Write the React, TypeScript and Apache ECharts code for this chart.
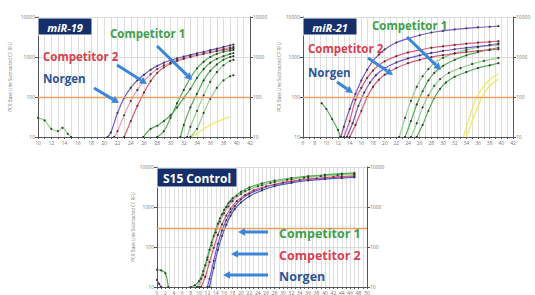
import React, { useEffect, useRef } from "react";
import * as echarts from "echarts";

type Pt = [number, number];

// ---------- miR-19 panel ----------
const m19XRange = [10, 42];
const m19Threshold = 100;
const m19Norgen: Pt[] = [[20.5,10],[21,13],[22,40],[23,95],[24,170],[25,260],[26,360],[27,480],[28,600],[29,720],[30,830],[31,930],[32,1030],[33,1130],[34,1240],[35,1350],[36,1480],[37,1620],[38,1780],[39,1950],[39.5,2050]];
const m19Comp2A: Pt[] = [[21.5,10],[22,14],[23,35],[24,80],[25,150],[26,250],[27,370],[28,500],[29,620],[30,730],[31,840],[32,940],[33,1040],[34,1140],[35,1240],[36,1350],[37,1470],[38,1600],[39,1720],[39.5,1780]];
const m19Comp2B: Pt[] = [[23,10],[24,25],[25,60],[26,130],[27,250],[28,400],[29,550],[30,680],[31,800],[32,900],[33,1000],[34,1100],[35,1200],[36,1300],[37,1400],[38,1500],[39,1600],[39.5,1650]];
const m19Comp1A: Pt[] = [[25.9,10],[27,16],[28,19],[29,25],[30,35],[31,55],[32,95],[33,160],[34,300],[35,500],[36,720],[37,900],[38,1050],[39,1200],[39.5,1250]];
const m19Comp1B: Pt[] = [[31.5,10],[32,20],[33,55],[34,120],[35,260],[36,450],[37,650],[38,850],[39,1000],[39.5,1050]];
const m19Comp1C: Pt[] = [[32.5,10],[33,18],[34,45],[35,110],[36,240],[37,420],[38,620],[39,800],[39.5,850]];
const m19Comp1D: Pt[] = [[33,10],[34,16],[35,40],[36,90],[37,170],[38,260],[39,330],[39.5,350]];
const m19Comp1E: Pt[] = [[28,10],[29,14],[30,30],[31,70],[32,150],[33,300],[34,520],[35,760],[36,1000],[37,1200],[38,1350],[39,1450],[39.5,1500]];
const m19Noise: Pt[] = [[10,30],[11,26],[12,16],[13,14],[13.7,17],[14.5,12],[15,10]];
const m19NTC: Pt[] = [[33,10],[34,12],[35,16],[36,20],[37,24],[38,28],[39,32]];

// ---------- miR-21 panel ----------
const m21XRange = [6, 42];
const m21Threshold = 100;
const m21NorgenA: Pt[] = [[12.5,10],[13,18],[14,50],[15,120],[16,260],[17,480],[18,800],[19,1150],[20,1550],[22,2300],[24,2900],[26,3500],[28,4100],[30,4500],[32,4900],[34,5200],[36,5500],[38,5700],[39.5,5900]];
const m21Comp2A: Pt[] = [[13,10],[14,25],[15,85],[16,170],[17,300],[18,460],[19,620],[20,780],[22,1050],[24,1300],[26,1500],[28,1700],[30,1850],[32,2000],[34,2150],[36,2300],[38,2400],[39.5,2500]];
const m21NorgenB: Pt[] = [[13.5,10],[14.5,22],[15.5,60],[16.5,130],[17.5,230],[18.5,350],[20,520],[22,730],[24,920],[26,1100],[28,1260],[30,1420],[32,1560],[34,1700],[36,1830],[38,1950],[39.5,2050]];
const m21Comp2B: Pt[] = [[14,10],[15,20],[16,45],[17,100],[18,180],[19,270],[20,360],[22,530],[24,700],[26,850],[28,990],[30,1110],[32,1220],[34,1330],[36,1420],[38,1500],[39.5,1560]];
const m21Comp1A: Pt[] = [[22.5,10],[23.5,30],[24.5,80],[25.5,180],[26.5,330],[27.5,500],[28.5,700],[30,950],[32,1250],[34,1500],[36,1750],[38,2000],[39.5,2200]];
const m21Comp1B: Pt[] = [[23.5,10],[24.5,25],[25.5,65],[26.5,140],[27.5,260],[28.5,400],[30,600],[32,850],[34,1100],[36,1330],[38,1550],[39.5,1700]];
const m21Comp1C: Pt[] = [[24.5,10],[25.5,22],[26.5,55],[27.5,110],[28.5,190],[29.5,280],[31,400],[33,530],[35,670],[37,800],[39.5,950]];
const m21Comp1D: Pt[] = [[25.5,10],[26.5,20],[27.5,45],[28.5,95],[29.5,160],[30.5,230],[32,320],[34,420],[36,530],[38,620],[39.5,700]];
const m21Noise: Pt[] = [[9.2,70],[10,50],[11,28],[12,15],[12.4,10]];
const m21NTC1: Pt[] = [[33.5,10],[34.5,30],[35.5,80],[36.5,150],[37.5,230],[38.5,310],[39.5,380]];
const m21NTC2: Pt[] = [[34,10],[35,25],[36,60],[37,120],[38,190],[39.5,280]];

// ---------- S15 Control panel ----------
const s15XRange = [0, 50];
const s15Threshold = 300;
const s15Comp1A: Pt[] = [[8,10],[9,11],[10,14],[11,25],[12,55],[13,130],[14,280],[15,520],[16,850],[17,1250],[18,1650],[20,2400],[22,3100],[25,3900],[28,4600],[32,5300],[36,5900],[40,6400],[44,6800],[47,7100]];
const s15Comp1B: Pt[] = [[9.5,10],[10.5,16],[11.5,35],[12.5,85],[13.5,190],[14.5,380],[15.5,650],[16.5,1000],[17.5,1380],[19,1900],[21,2500],[24,3300],[27,4000],[31,4800],[35,5400],[39,5900],[43,6300],[47,6600]];
const s15Comp2A: Pt[] = [[10,10],[11,20],[12,48],[13,110],[14,230],[15,430],[16,700],[17,1030],[18,1400],[20,2100],[22,2750],[25,3500],[28,4200],[32,4900],[36,5500],[40,6000],[44,6400],[47,6700]];
const s15Comp2B: Pt[] = [[10.5,10],[11.5,18],[12.5,42],[13.5,95],[14.5,200],[15.5,370],[16.5,610],[17.5,900],[19,1400],[21,2000],[23,2600],[26,3300],[30,4100],[34,4700],[38,5200],[42,5600],[47,6000]];
const s15NorgenA: Pt[] = [[12,10],[12.5,16],[13.5,45],[14.5,120],[15.5,260],[16.5,470],[17.5,740],[18.5,1050],[20,1550],[22,2150],[25,2900],[28,3600],[32,4300],[36,4900],[40,5300],[44,5600],[47,5800]];
const s15NorgenB: Pt[] = [[12.5,10],[13.5,30],[14.5,85],[15.5,190],[16.5,360],[17.5,600],[18.5,880],[20,1300],[22,1850],[25,2600],[28,3300],[32,4000],[36,4600],[40,5000],[44,5300],[47,5500]];
const s15NoiseG: Pt[] = [[0,27],[1,26],[2,22],[2.7,10]];
const s15NoiseP: Pt[] = [[0,15],[0.5,12],[1,10]];

const yTicks = [10, 100, 1000, 10000];
const yName = "PCR Base Line Subtracted CF RFU";

const C_NOR = "#7a55d0";
const C_NOR2 = "#4a5fc8";
const C_C2 = "#e25a78";
const C_C2L = "#f29ab0";
const C_C1 = "#4fb04f";
const C_C1L = "#8ed48a";
const C_NTC = "#f2e65a";
const C_THR = "#eea062";

const FONT = "'Open Sans', 'DejaVu Sans', sans-serif";

function curve(data: Pt[], color: string, g: number, dots = true) {
  return {
    type: "line",
    xAxisIndex: g,
    yAxisIndex: g * 2,
    data,
    smooth: 0.3,
    silent: true,
    symbol: dots ? "circle" : "none",
    symbolSize: 2.2,
    showAllSymbol: true,
    lineStyle: { color, width: 1.2 },
    itemStyle: { color: "#3a3a3a" },
    z: 3,
  };
}

function threshold(value: number, g: number) {
  return {
    type: "line",
    xAxisIndex: g,
    yAxisIndex: g * 2,
    data: [],
    silent: true,
    markLine: {
      silent: true,
      symbol: "none",
      label: { show: false },
      lineStyle: { color: C_THR, type: "solid", width: 1.3 },
      data: [{ yAxis: value }],
    },
    z: 2,
  };
}

function xAxis(range: number[], g: number) {
  return {
    type: "value",
    gridIndex: g,
    min: range[0],
    max: range[1],
    interval: 1,
    axisLine: { show: true, lineStyle: { color: "#555", width: 1 } },
    axisTick: { show: true, length: 2, lineStyle: { color: "#555" } },
    axisLabel: {
      fontSize: 5,
      color: "#777",
      margin: 3,
      fontFamily: FONT,
      formatter: (v: number) => (v % 2 === 0 ? String(v) : ""),
    },
    splitLine: { show: true, lineStyle: { color: "#d6d6d6", width: 0.8 } },
  };
}

function yAxes(g: number, nameGap: number) {
  const base = {
    type: "log",
    logBase: 10,
    gridIndex: g,
    min: yTicks[0],
    max: yTicks[yTicks.length - 1],
    axisLine: { show: true, lineStyle: { color: "#555", width: 1 } },
    axisTick: { show: true, length: 3, lineStyle: { color: "#555" } },
    axisLabel: { fontSize: 5, color: "#777", margin: 3, fontFamily: FONT, formatter: (v: number) => String(v) },
  };
  return [
    {
      ...base,
      position: "left",
      name: yName,
      nameLocation: "middle",
      nameGap,
      nameTextStyle: { fontSize: 4.5, color: "#777", fontFamily: FONT },
      splitLine: { show: true, lineStyle: { color: "#d0d0d0", width: 0.8 } },
    },
    { ...base, position: "right", splitLine: { show: false } },
  ];
}

function arrow(x1: number, y1: number, x2: number, y2: number) {
  const color = "#3a86d8";
  const head = 7;
  const ang = Math.atan2(y2 - y1, x2 - x1);
  const bx = x2 - head * Math.cos(ang);
  const by = y2 - head * Math.sin(ang);
  const px = -Math.sin(ang) * head * 0.55;
  const py = Math.cos(ang) * head * 0.55;
  return [
    { type: "line", silent: true, shape: { x1, y1, x2: bx, y2: by }, style: { stroke: color, lineWidth: 3 }, z: 100 },
    { type: "polygon", silent: true, shape: { points: [[x2, y2], [bx + px, by + py], [bx - px, by - py]] }, style: { fill: color }, z: 100 },
  ];
}

function label(text: string, x: number, y: number, fill: string, size: number) {
  return {
    type: "text",
    silent: true,
    x,
    y,
    z: 100,
    style: { text, fill, font: `bold ${size}px ${FONT}`, textVerticalAlign: "middle" },
  };
}

function titleBox(text: string, x: number, y: number, w: number, h: number, italic: boolean, size: number) {
  return [
    { type: "rect", silent: true, z: 100, shape: { x, y, width: w, height: h }, style: { fill: "#142f6a", stroke: "#ffffff", lineWidth: 1 } },
    {
      type: "text",
      silent: true,
      z: 101,
      x: x + w / 2,
      y: y + h / 2 + 0.5,
      style: { text, fill: "#ffffff", font: `${italic ? "italic " : ""}bold ${size}px ${FONT}`, textAlign: "center", textVerticalAlign: "middle" },
    },
  ];
}

export default function App() {
  const ref = useRef<HTMLDivElement>(null);
  useEffect(() => {
    if (!ref.current) return;
    const chart = echarts.init(ref.current, null, { renderer: "svg" });
    chart.setOption({
      animation: false,
      backgroundColor: "#ffffff",
      grid: [
        { left: 38, top: 17, width: 212, height: 120 },
        { left: 303, top: 17, width: 210, height: 120 },
        { left: 157, top: 167, width: 210, height: 122 },
      ],
      xAxis: [xAxis(m19XRange, 0), xAxis(m21XRange, 1), xAxis(s15XRange, 2)],
      yAxis: [...yAxes(0, 26), ...yAxes(1, 21), ...yAxes(2, 19)],
      series: [
        threshold(m19Threshold, 0),
        curve(m19Noise, C_C1L, 0),
        curve(m19NTC, C_NTC, 0, false),
        curve(m19Comp1A, C_C1, 0),
        curve(m19Comp1B, C_C1, 0),
        curve(m19Comp1C, C_C1L, 0),
        curve(m19Comp1D, C_C1L, 0),
        curve(m19Comp1E, C_C1, 0),
        curve(m19Comp2B, C_C2, 0),
        curve(m19Comp2A, C_C2L, 0),
        curve(m19Norgen, C_NOR, 0),

        threshold(m21Threshold, 1),
        curve(m21Noise, C_C1, 1),
        curve(m21NTC1, C_NTC, 1, false),
        curve(m21NTC2, C_NTC, 1, false),
        curve(m21Comp1A, C_C1L, 1),
        curve(m21Comp1B, C_C1, 1),
        curve(m21Comp1C, C_C1L, 1),
        curve(m21Comp1D, C_C1, 1),
        curve(m21Comp2B, C_C2, 1),
        curve(m21NorgenB, C_NOR, 1),
        curve(m21Comp2A, C_C2, 1),
        curve(m21NorgenA, C_NOR, 1),

        threshold(s15Threshold, 2),
        curve(s15NoiseG, C_C1, 2),
        curve(s15NoiseP, C_NOR, 2),
        curve(s15NorgenB, C_NOR2, 2),
        curve(s15NorgenA, C_NOR, 2),
        curve(s15Comp2B, C_C2, 2),
        curve(s15Comp2A, C_C2L, 2),
        curve(s15Comp1B, C_C1L, 2),
        curve(s15Comp1A, C_C1, 2),
      ],
      graphic: [
        ...titleBox("miR-19", 38, 18, 54, 17, true, 11),
        ...titleBox("miR-21", 303, 18, 54, 17, true, 11),
        ...titleBox("S15 Control", 157, 168, 80, 19, false, 12),
        label("Competitor 1", 110, 33, "#3f9f48", 11.5),
        label("Competitor 2", 43, 56, "#d8404e", 11.5),
        label("Norgen", 43, 78, "#2b5597", 11.5),
        ...arrow(157, 46, 192, 80),
        ...arrow(117, 65, 147, 84),
        ...arrow(94, 88, 119, 103),
        label("Competitor 1", 372, 25, "#3f9f48", 11.5),
        label("Competitor 2", 308, 48, "#d8404e", 11.5),
        label("Norgen", 308, 72, "#2b5597", 11.5),
        ...arrow(407, 37, 441, 70),
        ...arrow(368, 58, 393, 75),
        ...arrow(337, 82, 353, 93),
        label("Competitor 1", 279, 233, "#3f9f48", 12.5),
        label("Competitor 2", 279, 255, "#d8404e", 12.5),
        label("Norgen", 279, 276, "#2b5597", 12.5),
        ...arrow(268, 232, 238, 232),
        ...arrow(268, 254, 231, 254),
        ...arrow(268, 275, 223, 275),
      ],
    });
    return () => chart.dispose();
  }, []);
  return <div ref={ref} style={{ position: "fixed", left: 0, top: 0, width: 535, height: 295 }} />;
}
